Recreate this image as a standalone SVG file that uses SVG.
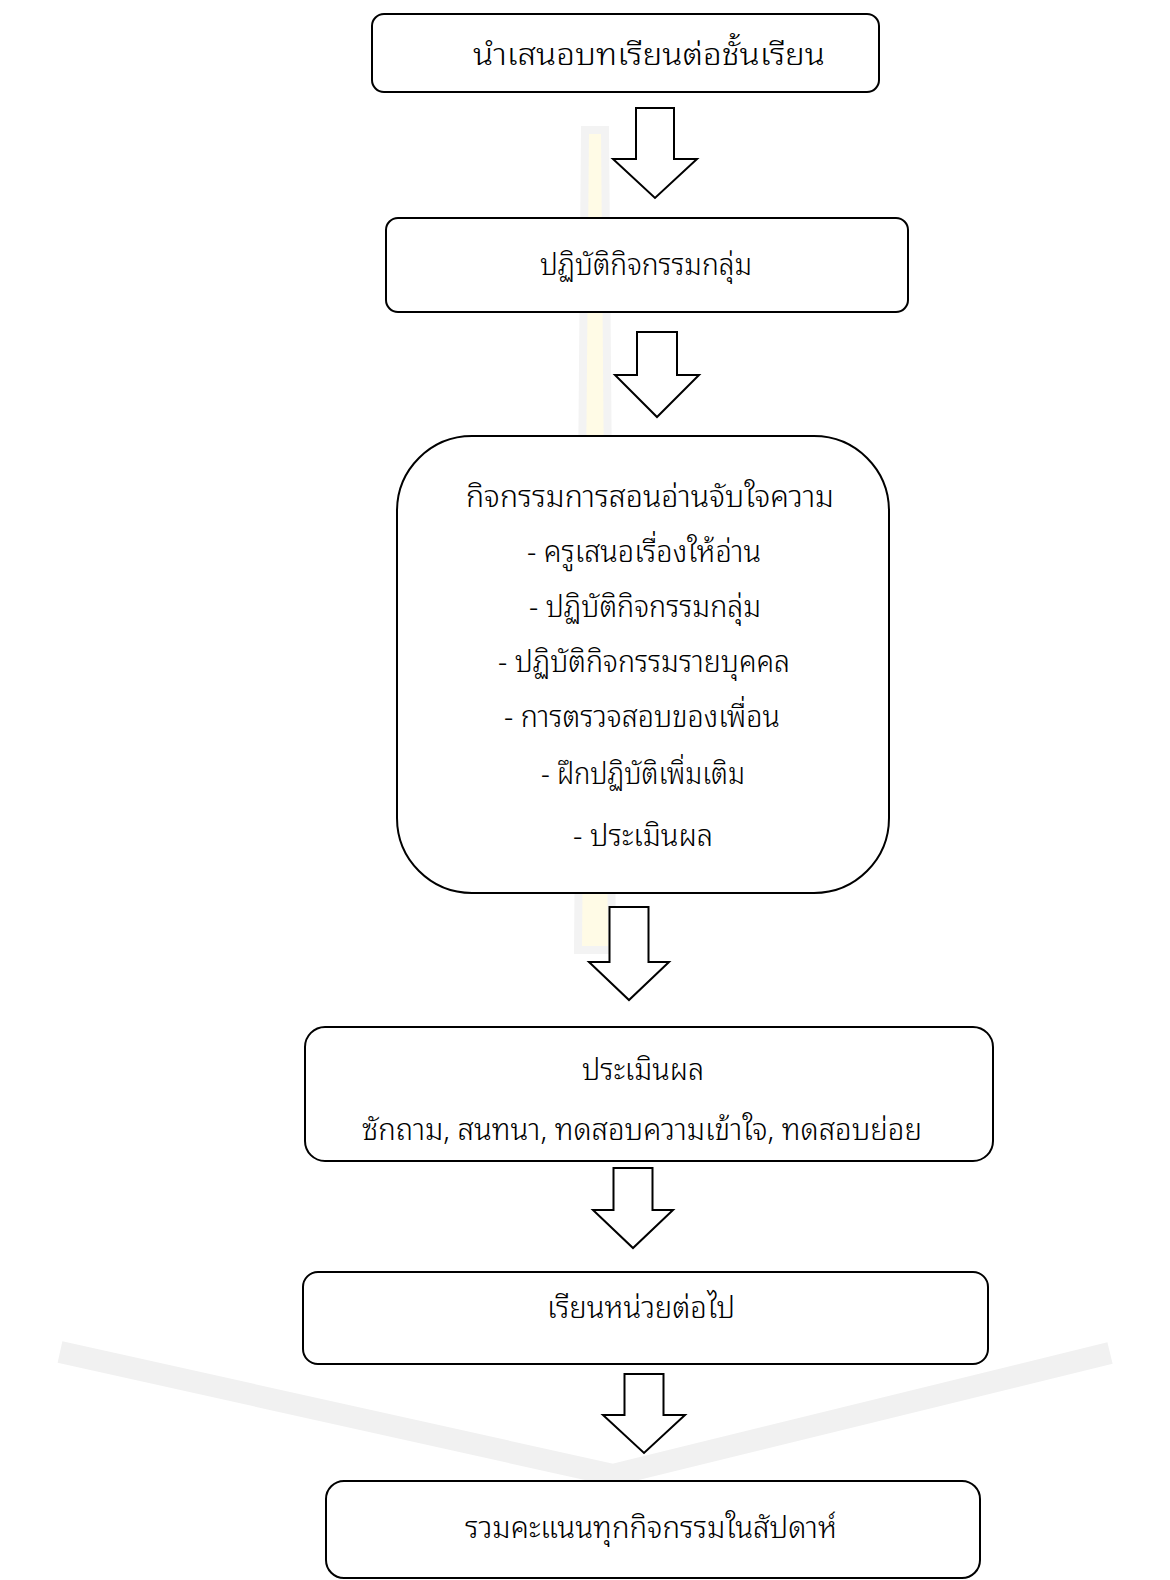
<svg xmlns="http://www.w3.org/2000/svg" width="1170" height="1580" viewBox="0 0 1170 1580">
<style>
.box{fill:#ffffff;stroke:#000000;stroke-width:2}
.arr{fill:#ffffff;stroke:#000000;stroke-width:2;stroke-linejoin:miter}
.t{font-family:"Noto Sans Thai Looped","Noto Sans Thai","Noto Sans","DejaVu Sans",sans-serif;font-size:30px;font-weight:300;fill:#000000;text-anchor:middle}
.wm{fill:none;stroke:#f1f1f1;stroke-width:22}
</style>
<rect width="1170" height="1580" fill="#ffffff"/>
<g id="watermark">
<path class="wm" d="M60 1352 L613 1475 L1110 1353"/>
<path d="M585 130 L605 130 L612 950 L578 950 Z" fill="#fffbe6" stroke="#f3f3f3" stroke-width="8"/>
</g>
<g id="connectors">
<path class="arr" d="M636 108 H674 V159 H697 L655 198 L613 159 H636 Z"/>
<path class="arr" d="M637 332 H677 V375 H699 L657 417 L615 375 H637 Z"/>
<path class="arr" d="M609.5 907 H648.5 V962 H669 L629 1000 L589 962 H609.5 Z"/>
<path class="arr" d="M613.5 1168 H652.5 V1210 H673 L633 1248 L593 1210 H613.5 Z"/>
<path class="arr" d="M624.5 1374 H663.5 V1415 H685 L644 1453 L603 1415 H624.5 Z"/>
</g>
<g id="n1">
<rect class="box" x="372" y="14" width="507" height="78" rx="12"/>
<text class="t" x="649" y="65" textLength="352" lengthAdjust="spacingAndGlyphs">นำเสนอบทเรียนต่อชั้นเรียน</text>
</g>
<g id="n2">
<rect class="box" x="386" y="218" width="522" height="94" rx="12"/>
<text class="t" x="646" y="275" textLength="212" lengthAdjust="spacingAndGlyphs">ปฏิบัติกิจกรรมกลุ่ม</text>
</g>
<g id="n3">
<rect class="box" x="397" y="436" width="492" height="457" rx="75"/>
<text class="t" x="650" y="507" textLength="368" lengthAdjust="spacingAndGlyphs">กิจกรรมการสอนอ่านจับใจความ</text>
<text class="t" x="644" y="562" textLength="234" lengthAdjust="spacingAndGlyphs">- ครูเสนอเรื่องให้อ่าน</text>
<text class="t" x="645" y="617" textLength="232" lengthAdjust="spacingAndGlyphs">- ปฏิบัติกิจกรรมกลุ่ม</text>
<text class="t" x="644" y="672" textLength="292" lengthAdjust="spacingAndGlyphs">- ปฏิบัติกิจกรรมรายบุคคล</text>
<text class="t" x="642" y="727" textLength="276" lengthAdjust="spacingAndGlyphs">- การตรวจสอบของเพื่อน</text>
<text class="t" x="643" y="784" textLength="204" lengthAdjust="spacingAndGlyphs">- ฝึกปฏิบัติเพิ่มเติม</text>
<text class="t" x="643" y="846" textLength="140" lengthAdjust="spacingAndGlyphs">- ประเมินผล</text>
</g>
<g id="n4">
<rect class="box" x="305" y="1027" width="688" height="134" rx="20"/>
<text class="t" x="643" y="1080" textLength="122" lengthAdjust="spacingAndGlyphs">ประเมินผล</text>
<text class="t" x="642" y="1140" textLength="560" lengthAdjust="spacingAndGlyphs">ซักถาม, สนทนา, ทดสอบความเข้าใจ, ทดสอบย่อย</text>
</g>
<g id="n5">
<rect class="box" x="303" y="1272" width="685" height="92" rx="15"/>
<text class="t" x="641" y="1318" textLength="188" lengthAdjust="spacingAndGlyphs">เรียนหน่วยต่อไป</text>
</g>
<g id="n6">
<rect class="box" x="326" y="1481" width="654" height="97" rx="18"/>
<text class="t" x="651" y="1538" textLength="372" lengthAdjust="spacingAndGlyphs">รวมคะแนนทุกกิจกรรมในสัปดาห์</text>
</g>
</svg>
